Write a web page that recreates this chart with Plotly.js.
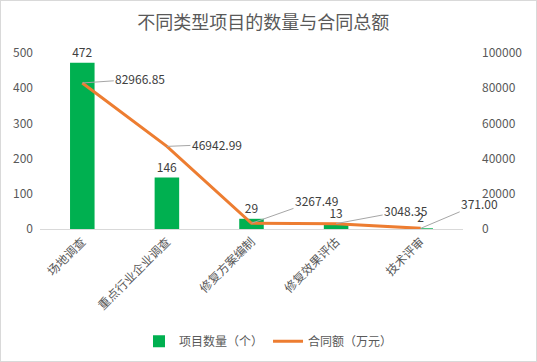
<!DOCTYPE html>
<html>
<head>
<meta charset="utf-8">
<script src="https://cdn.plot.ly/plotly-3.0.1.min.js"></script>
<style>
html,body{margin:0;padding:0;background:#fff;}
#chart{width:535px;height:360px;border:1px solid #d9d9d9;}
</style>
</head>
<body>
<div id="chart"></div>
<script>
const categories = ['场地调查','重点行业企业调查','修复方案编制','修复效果评估','技术评审'];
const projectCounts = [472, 146, 29, 13, 2];
const contractAmounts = [82966.85, 46942.99, 3267.49, 3048.35, 371.00];
const amountLabels = ['82966.85','46942.99','3267.49','3048.35','371.00'];

const font = 'Noto Sans CJK SC, Microsoft YaHei, sans-serif';
const grey = '#595959';

const labelOffsets = [[58,-4],[50,-2],[65,-23],[70,-13],[59,-25]];

const annotations = categories.map((c,i)=>({
  x: c, y: contractAmounts[i], xref:'x', yref:'y2',
  text: amountLabels[i], showarrow:true, arrowhead:0, arrowwidth:1,
  arrowcolor:'#a6a6a6', ax: labelOffsets[i][0], ay: labelOffsets[i][1],
  font:{family:font,size:12,color:'#404040'}, standoff:0
}));

const data = [
  {type:'bar', x:categories, y:projectCounts, name:'项目数量（个）',
   marker:{color:'#00b050'}, text:projectCounts.map(String), textposition:'outside',
   textfont:{family:font,size:12,color:'#404040'}, cliponaxis:false},
  {type:'scatter', mode:'lines', x:categories, y:contractAmounts, yaxis:'y2',
   name:'合同额（万元）', line:{color:'#ed7d31', width:3}}
];

const layout = {
  width:535, height:360,
  margin:{l:39, r:73, t:52, b:132},
  paper_bgcolor:'#fff', plot_bgcolor:'#fff',
  font:{family:font, size:12, color:grey},
  title:{text:'不同类型项目的数量与合同总额', x:0.49, xanchor:'center', y:0.94, yanchor:'middle',
         font:{family:font, size:18, color:grey}, automargin:false},
  bargap:0.71,
  xaxis:{range:[-0.5,4.5], showline:true, linecolor:'#d9d9d9', linewidth:1, tickangle:-45, ticks:'', automargin:false,
         tickfont:{family:font,size:12,color:grey}, fixedrange:true},
  yaxis:{range:[0,500], dtick:100, showgrid:false, zeroline:false, showline:false, automargin:false,
         tickfont:{family:font,size:12,color:grey}, ticklabelstandoff:6},
  yaxis2:{range:[0,100000], dtick:20000, tickformat:'d', overlaying:'y', side:'right', showgrid:false, automargin:false,
          zeroline:false, showline:false, tickfont:{family:font,size:12,color:grey}, ticklabelstandoff:18},
  legend:{orientation:'h', x:0.5, xanchor:'center', xref:'container', y:0.055, yref:'container', yanchor:'middle',
          font:{family:font,size:12,color:grey}},
  annotations: annotations,
  showlegend:true
};

Plotly.newPlot('chart', data, layout, {displayModeBar:false, staticPlot:true});
</script>
</body>
</html>
